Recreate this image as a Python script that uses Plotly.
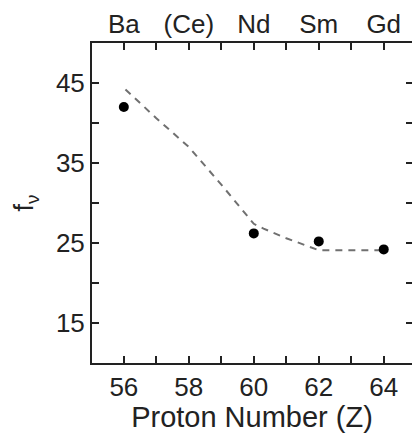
import plotly.graph_objects as go

# data
z_points = [56, 60, 62, 64]
f_points = [42.0, 26.2, 25.2, 24.2]

z_curve = [56.05, 57, 58, 59, 60, 60.3, 61, 62, 63, 64]
f_curve = [44.2, 40.6, 37.0, 32.3, 27.4, 26.8, 25.6, 24.1, 24.1, 24.1]

x_ticks = [56, 57, 58, 59, 60, 61, 62, 63, 64]
x_ticktext = ["56", "", "58", "", "60", "", "62", "", "64"]
top_ticktext = ["Ba", "", "(Ce)", "", "Nd", "", "Sm", "", "Gd"]
y_ticks = [15, 20, 25, 30, 35, 40, 45]
y_ticktext = ["15", "", "25", "", "35", "", "45"]

x_range = [55.02, 64.87]
y_range = [10, 50]

FONT = "Liberation Sans, Arial, sans-serif"
INK = "#222222"

fig = go.Figure()
fig.add_trace(go.Scatter(
    x=z_curve, y=f_curve, mode="lines",
    line=dict(color="#707070", width=2, dash="7px,6px"),
    showlegend=False, hoverinfo="skip"))
fig.add_trace(go.Scatter(
    x=z_points, y=f_points, mode="markers",
    marker=dict(color="black", size=10),
    showlegend=False))
fig.add_trace(go.Scatter(x=[], y=[], xaxis="x2", yaxis="y2",
                         showlegend=False, hoverinfo="skip"))

fig.update_layout(
    width=412, height=433,
    margin=dict(l=92, r=0, t=43, b=70),
    paper_bgcolor="white", plot_bgcolor="white",
    font=dict(family=FONT, color=INK),
    xaxis=dict(
        range=x_range, tickvals=x_ticks, ticktext=x_ticktext,
        ticks="inside", ticklen=7, tickwidth=1.5, tickcolor=INK,
        showline=True, linecolor=INK, linewidth=2, mirror="ticks",
        showgrid=False, zeroline=False,
        tickfont=dict(size=26, color=INK),
        title=dict(text="Proton Number (Z)", font=dict(size=29, color=INK), standoff=3),
    ),
    xaxis2=dict(
        range=x_range, overlaying="x", side="top", anchor="y",
        tickvals=x_ticks, ticktext=top_ticktext, ticks="",
        showline=False, showgrid=False, zeroline=False,
        ticklabelstandoff=4,
        tickfont=dict(size=26, color=INK),
    ),
    yaxis=dict(
        range=y_range, tickvals=y_ticks, ticktext=y_ticktext,
        ticks="inside", ticklen=7, tickwidth=1.5, tickcolor=INK,
        showline=True, linecolor=INK, linewidth=2, mirror=False,
        showgrid=False, zeroline=False,
        tickfont=dict(size=26, color=INK),
        title=dict(text="f<sub>ν</sub>", font=dict(size=27, color=INK), standoff=14),
    ),
    yaxis2=dict(
        range=y_range, overlaying="y", side="right", anchor="x",
        tickvals=y_ticks, ticktext=[""] * len(y_ticks),
        ticks="inside", ticklen=6, tickwidth=1.5, tickcolor=INK,
        showline=False, showgrid=False, zeroline=False,
    ),
)

fig.write_html("out.html")
